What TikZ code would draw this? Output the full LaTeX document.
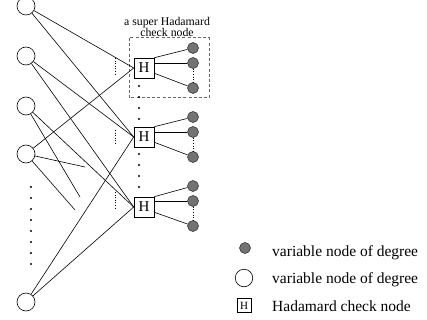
\documentclass[tikz,border=0pt]{standalone}
\usepackage{fontspec}
\setmainfont{Liberation Serif}
\begin{document}
\begin{tikzpicture}[x=1pt,y=-1pt,
  vo/.style={circle,draw,line width=0.6pt,minimum size=18pt,inner sep=0pt},
  vf/.style={circle,draw=black!85,fill=black!55,line width=0.5pt,minimum size=11pt,inner sep=0pt},
  hbox/.style={draw,line width=0.6pt,minimum size=20pt,inner sep=0pt,fill=white,
    font=\fontsize{15}{17}\selectfont},
  hsmall/.style={draw,line width=0.6pt,minimum size=14pt,inner sep=0pt,
    font=\fontsize{11}{13}\selectfont},
  ln/.style={line width=0.6pt},
  dotline/.style={line width=0.6pt,dotted},
  legtext/.style={anchor=base west,inner sep=0pt,font=\fontsize{15.5}{18}\selectfont}
]
\useasboundingbox (0,0) rectangle (427,320);

% dashed super node box
\draw[gray!80!black,line width=1pt,dash pattern=on 3pt off 2.2pt] (129,38) rectangle (209,98);
\node[align=center,inner sep=0pt,font=\fontsize{11.8}{9.8}\selectfont] (lbl) at (167,27) {a super Hadamard\\check node};

% left variable nodes
\node[vo] (c1) at (26,6) {};
\node[vo] (c2) at (26,56) {};
\node[vo] (c3) at (26,106) {};
\node[vo] (c4) at (26,154) {};
\node[vo] (c5) at (26,302) {};

% check nodes
\node[hbox] (H1) at (144,68) {H};
\node[hbox] (H2) at (144,137) {H};
\node[hbox] (H3) at (144,207) {H};

% right variable nodes
\node[vf] (v11) at (193,48) {};
\node[vf] (v12) at (193,63) {};
\node[vf] (v13) at (193,88) {};
\node[vf] (v21) at (193,117) {};
\node[vf] (v22) at (193,132) {};
\node[vf] (v23) at (193,157) {};
\node[vf] (v31) at (193,186) {};
\node[vf] (v32) at (193,201) {};
\node[vf] (v33) at (193,226) {};

% free ends
\coordinate (e1) at (85,167);
\coordinate (e2) at (80,197);
\coordinate (e3) at (75,210);

% edges left
\draw[ln] (c1) -- (H1.west);
\draw[ln] (c1) -- (H2.west);
\draw[ln] (c2) -- (H2.west);
\draw[ln] (c2) -- (H3.west);
\draw[ln] (c3) -- (H3.west);
\draw[ln] (c3) -- (e2);
\draw[ln] (c4) -- (H1.west);
\draw[ln] (c4) -- (e1);
\draw[ln] (c4) -- (e3);
\draw[ln] (c5) -- (H2.west);
\draw[ln] (c5) -- (H3.west);

% edges right
\foreach \h/\a/\b/\c in {H1/v11/v12/v13,H2/v21/v22/v23,H3/v31/v32/v33}{
  \draw[ln] (\h.45) -- (\a);
  \draw[ln] (\h.east |- \b) -- (\b);
  \draw[ln] (\h.-27) -- (\c);
  \draw[dotline] (\b.south) -- (\c.north);
}

% dotted lines left of H
\draw[dotline] (115,58) -- (115,75);
\draw[dotline] (115,130) -- (115,145);
\draw[dotline] (115,192) -- (115,208);

% column dots
\foreach \y in {86,97,108,119,154,165,176,187}{
  \fill (139,\y) circle (1.1pt);
}
\foreach \y in {187,198,209,220,231,242,253,264}{
  \fill (31,\y) circle (1.1pt);
}

% legend
\node[vf] (lf) at (245,248) {};
\node[vo,minimum size=17.5pt] (lo) at (244,278) {};
\node[hsmall] (lh) at (244,305.5) {H};
\node[legtext] (t1) at (272,256) {variable node of degree};
\node[legtext] (t2) at (272,283) {variable node of degree};
\node[legtext] (t3) at (272,311) {Hadamard check node};
\end{tikzpicture}
\end{document}
